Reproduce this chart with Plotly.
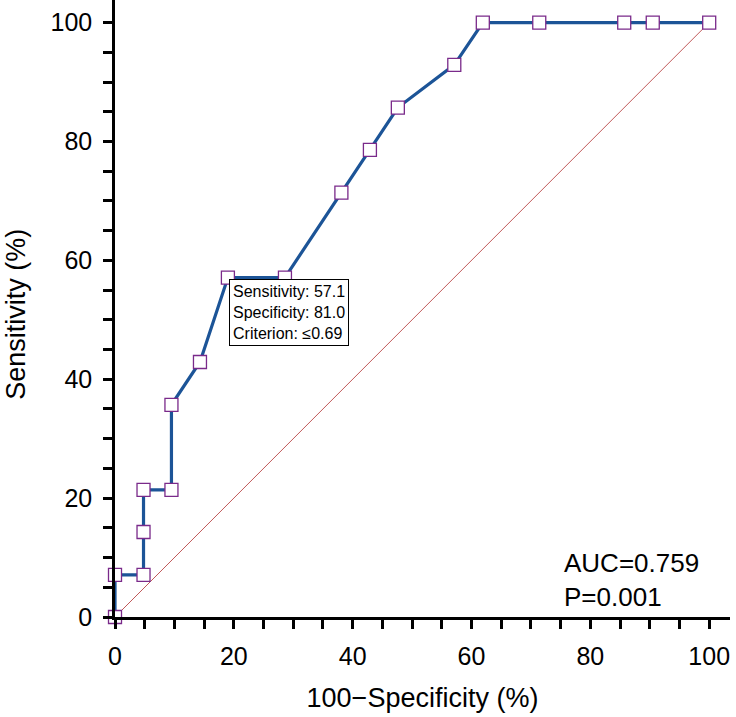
import plotly.graph_objects as go

# ROC curve points: 100-Specificity (%), Sensitivity (%)
fpr = [0, 0, 4.8, 4.8, 4.8, 9.5, 9.5, 14.3, 19.0, 28.6, 38.1, 42.9, 47.6, 57.1, 61.9, 71.4, 85.7, 90.5, 100]
tpr = [0, 7.1, 7.1, 14.3, 21.4, 21.4, 35.7, 42.9, 57.1, 57.1, 71.4, 78.6, 85.7, 92.9, 100, 100, 100, 100, 100]
ref_x = [0, 100]
ref_y = [0, 100]
tick_vals = [0, 20, 40, 60, 80, 100]
auc_text = "AUC=0.759<br>P=0.001"
crit_point = (19.0, 57.1)
crit_text = "Sensitivity: 57.1<br>Specificity: 81.0<br>Criterion: \u22640.69"
x_title = "100\u2212Specificity (%)"
y_title = "Sensitivity (%)"

FONT = "Liberation Sans, Arial, Helvetica, sans-serif"

fig = go.Figure()
fig.add_trace(go.Scatter(x=ref_x, y=ref_y, mode="lines",
                         line=dict(color="#c05858", width=1),
                         hoverinfo="skip", cliponaxis=False))
fig.add_trace(go.Scatter(x=fpr, y=tpr, mode="lines+markers",
                         line=dict(color="#1c5497", width=3.2),
                         marker=dict(symbol="square", size=13, color="white",
                                     line=dict(color="#7a2a8a", width=1.3)),
                         cliponaxis=False))

fig.add_annotation(x=crit_point[0], y=crit_point[1], xref="x", yref="y",
                   text=crit_text, showarrow=False, xanchor="left", yanchor="top",
                   align="left", xshift=1, yshift=-1,
                   font=dict(family=FONT, size=16, color="black"),
                   bgcolor="white", bordercolor="black", borderwidth=1, borderpad=3)

fig.add_annotation(x=75.2, y=12, xref="x", yref="y", text=auc_text,
                   showarrow=False, xanchor="left", yanchor="top", align="left",
                   font=dict(family=FONT, size=26, color="black"))

fig.add_annotation(x=0, y=0.49, xref="paper", yref="paper", text=y_title,
                   textangle=-90, showarrow=False, xanchor="center", yanchor="middle",
                   xshift=-99, font=dict(family=FONT, size=27, color="black"))

axis_common = dict(
    showgrid=False, zeroline=False, showline=True, linecolor="black", linewidth=2.5,
    ticks="outside", ticklen=9, tickwidth=2.5, tickcolor="black",
    tickvals=tick_vals, tickfont=dict(family=FONT, size=25, color="black"),
    minor=dict(dtick=5, tick0=0, ticks="outside", ticklen=9, tickwidth=2.5, tickcolor="black"),
)

fig.update_layout(
    width=736, height=717,
    margin=dict(l=115, r=6, t=0, b=100),
    plot_bgcolor="white", paper_bgcolor="white",
    showlegend=False,
    xaxis=dict(range=[0, 103.5], title=dict(text=x_title, standoff=20,
                                             font=dict(family=FONT, size=27, color="black")),
               ticklabelstandoff=6, **axis_common),
    yaxis=dict(range=[0, 103.8], ticklabelstandoff=6, automargin=False, **axis_common),
)

fig.write_html("out.html", config=dict(displayModeBar=False),
               post_script="document.body.style.margin='0';document.body.style.overflow='hidden';")
